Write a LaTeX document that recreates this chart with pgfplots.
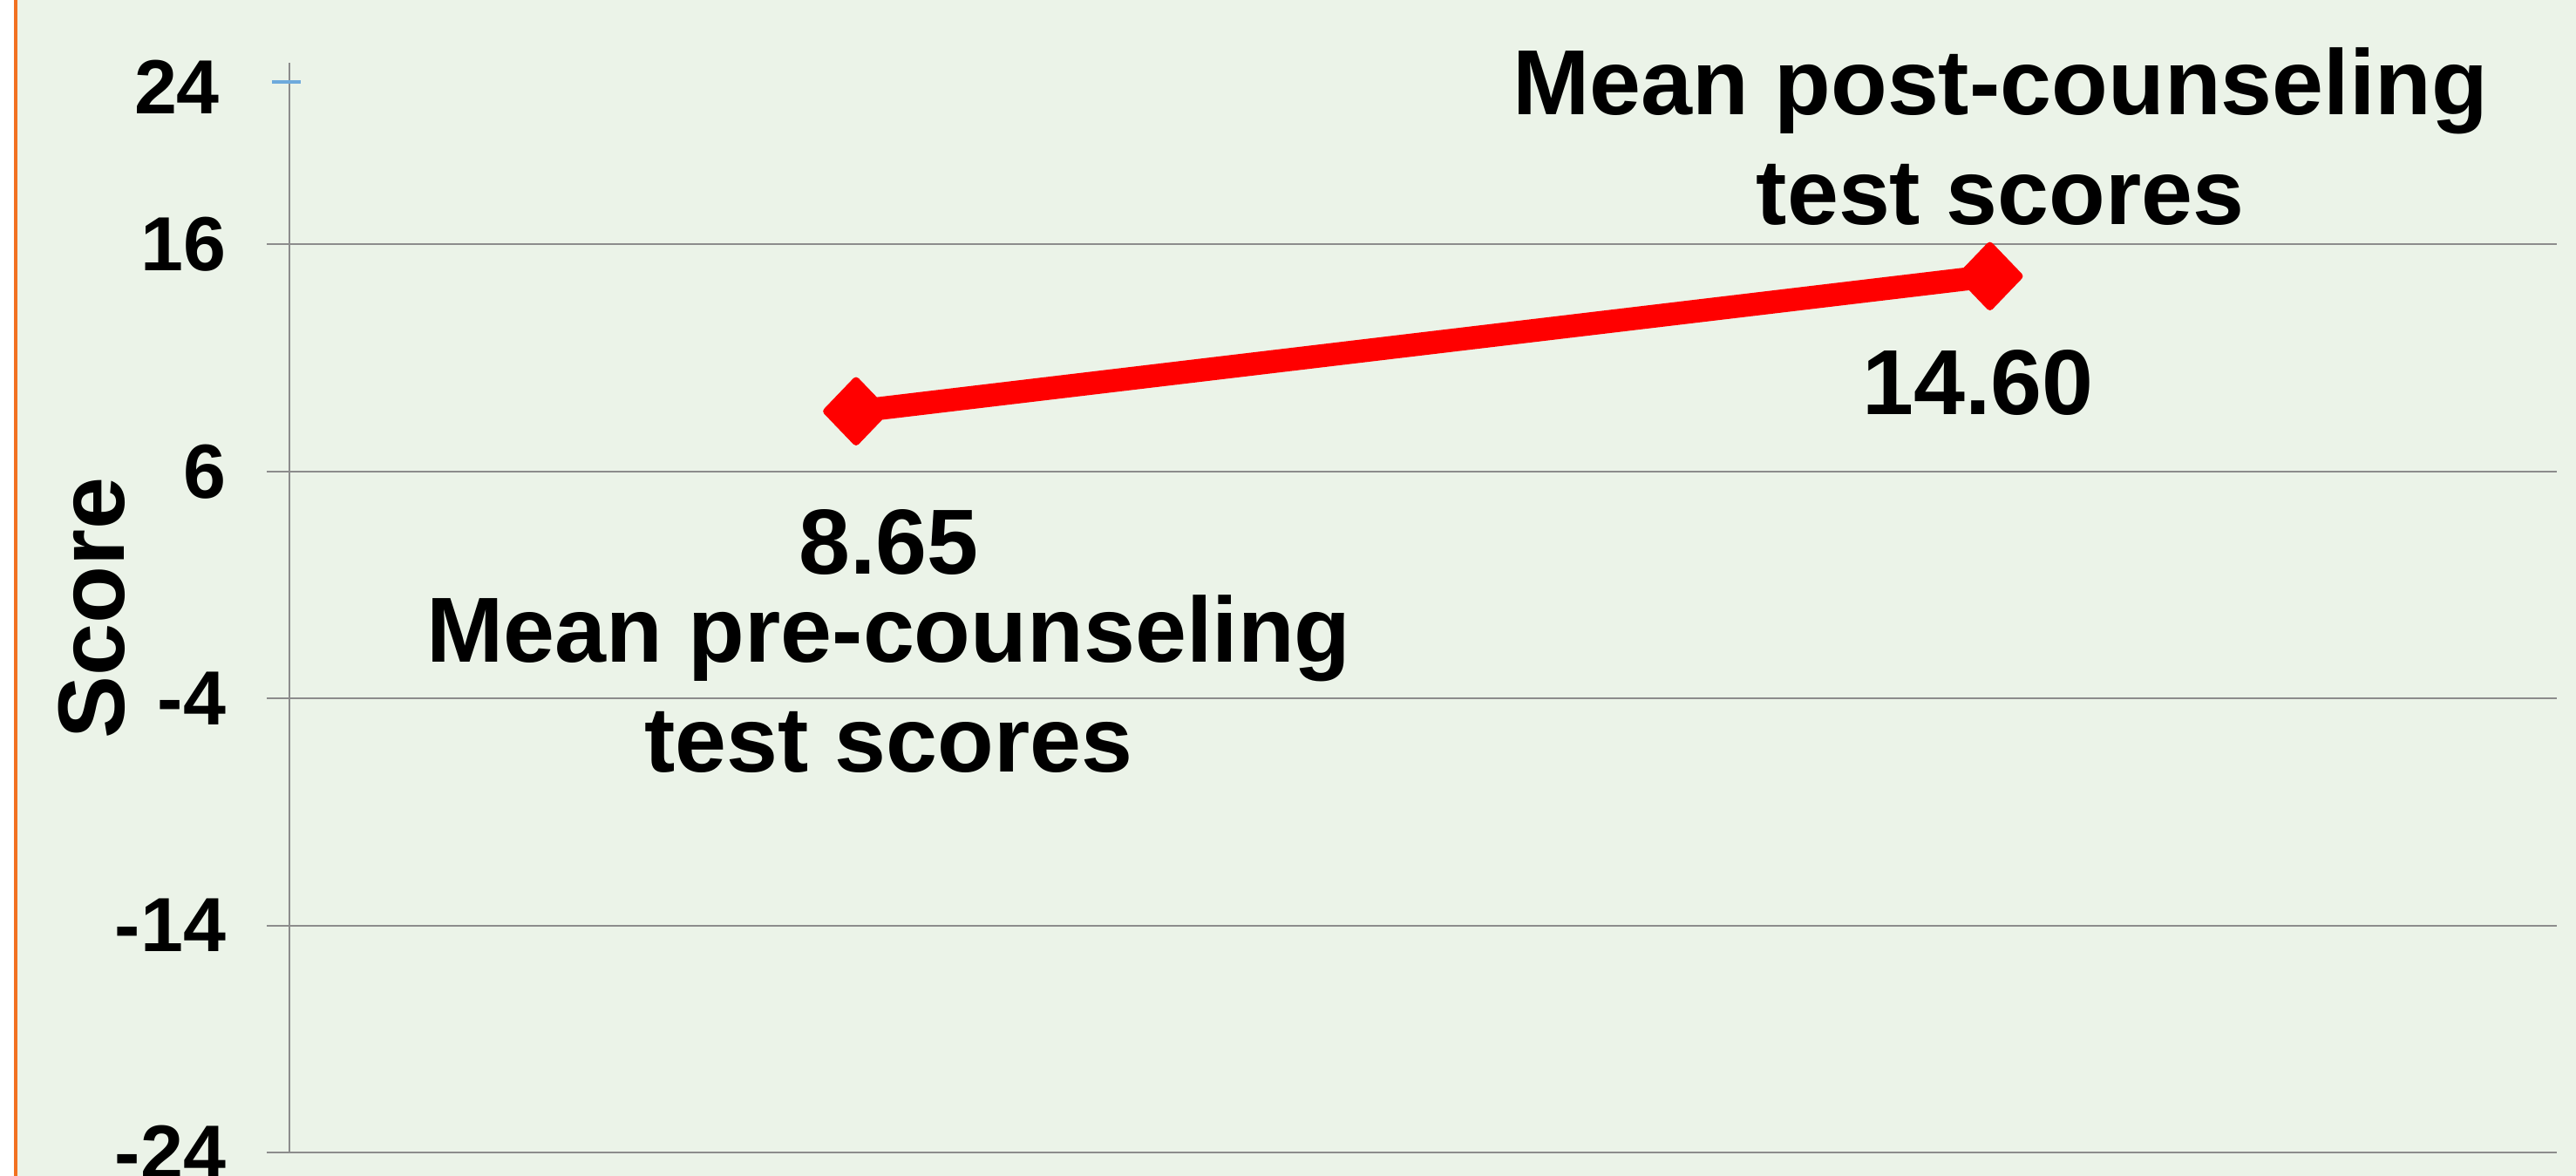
\documentclass[border=0pt]{standalone}
\usepackage{pgfplots}
\pgfplotsset{compat=1.18}
\usepackage{fontspec}
\setmainfont{Liberation Sans}
\definecolor{bg}{RGB}{235,243,232}
\definecolor{orangeline}{RGB}{242,113,33}
\definecolor{gridgray}{RGB}{140,140,140}
\definecolor{tickblue}{RGB}{110,170,220}
\begin{document}
\begin{tikzpicture}
\useasboundingbox (-82.9bp,-6.5bp) rectangle (655.8bp,330.5bp);
\fill[white] (-82.9bp,-6.5bp) rectangle (655.8bp,330.5bp);
\fill[bg] (-78.4bp,-10bp) rectangle (660bp,340bp);
\draw[orangeline, line width=0.8bp] (-78.4bp,-10bp) -- (-78.4bp,340bp);
\begin{axis}[
  width=650.3bp, height=312.5bp, scale only axis,
  xmin=0.5, xmax=2.5, ymin=-24, ymax=24,
  axis x line*=bottom, axis y line*=left,
  xtick=\empty,
  ytick={-24,-14,-4,6,16}, yticklabels={-24,-14,-4,6,16},
  extra y ticks={24}, extra y tick labels={24},
  extra y tick style={ymajorgrids=false, major tick length=0pt, yticklabel style={xshift=-8.2bp, yshift=-7bp}},
  ymajorgrids, grid style={gridgray, line width=0.5bp},
  axis line style={gridgray, line width=0.5bp, -},
  tick style={gridgray, line width=0.5bp},
  tick align=outside, major tick length=6.4bp,
  ticklabel style={font=\fontsize{22bp}{24bp}\selectfont\bfseries, text=black},
  yticklabel style={xshift=-8.2bp},
  ylabel={Score},
  ylabel style={font=\fontsize{27bp}{30bp}\selectfont\bfseries, at={(axis description cs:-0.0868,0.5)}, anchor=center},
  clip=false,
]
\draw[tickblue, line width=0.8bp] ([xshift=-4.9bp]axis description cs:0,0.9824) -- ([xshift=3.3bp]axis description cs:0,0.9824);
\addplot[red, line width=6.6bp, mark=diamond*, mark size=8.8bp,
  mark options={xscale=1.28, line width=2bp, line join=round, fill=red, draw=red}]
  coordinates {(1,8.65) (2,14.60)};
\node[font=\fontsize{26.5bp}{31.5bp}\selectfont\bfseries, xshift=9.4bp, yshift=-37.5bp] at (axis cs:1,8.65) {8.65};
\node[font=\fontsize{26.5bp}{31.5bp}\selectfont\bfseries, align=center, xshift=9.4bp, yshift=-78.25bp] at (axis cs:1,8.65) {Mean pre-counseling\\test scores};
\node[font=\fontsize{26.5bp}{31.5bp}\selectfont\bfseries, xshift=-3.4bp, yshift=-30.5bp] at (axis cs:2,14.60) {14.60};
\node[font=\fontsize{26.5bp}{31.5bp}\selectfont\bfseries, align=center, xshift=3bp, yshift=40bp] at (axis cs:2,14.60) {Mean post-counseling\\test scores};
\end{axis}
\end{tikzpicture}
\end{document}
